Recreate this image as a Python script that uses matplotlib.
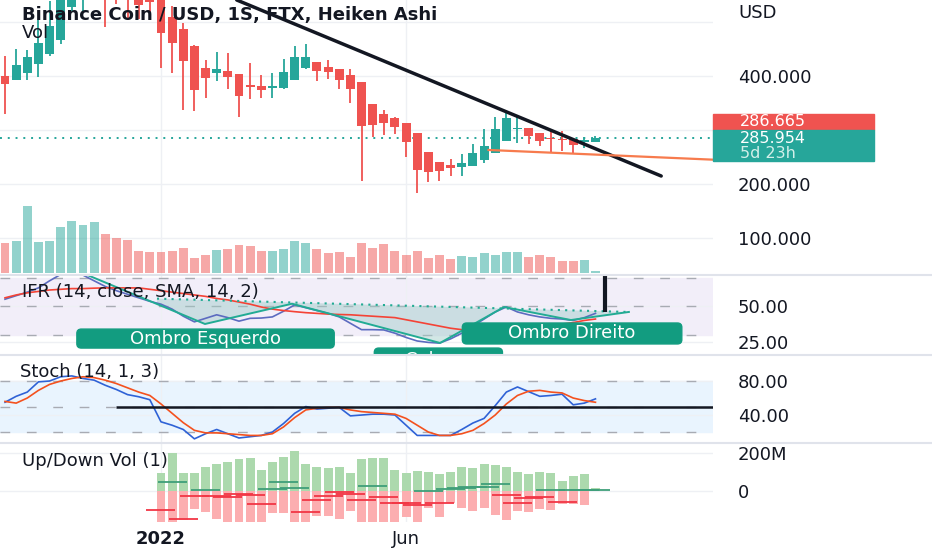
import numpy as np
import matplotlib
matplotlib.use("Agg")
import matplotlib.pyplot as plt
from matplotlib.patches import Rectangle, FancyBboxPatch

# weekly Heiken Ashi candles BNB/USD (FTX), first candle = late Sep 2021
opens = [400, 393, 406, 422, 441, 467, 528, 560, 620, 640,
         620, 600, 580, 560, 545, 510, 487, 456, 415, 406,
         409, 404, 383, 381, 378, 378, 393, 415, 426, 417,
         413, 402, 389, 348, 330, 322, 313, 294, 259, 241,
         235, 231, 233, 244, 257, 280, 302, 304, 294, 285,
         283, 283, 278, 278]
highs = [437, 450, 448, 504, 539, 600, 650, 660, 690, 660,
         640, 630, 600, 580, 570, 530, 498, 458, 430, 444,
         443, 404, 424, 402, 406, 431, 456, 459, 426, 430,
         413, 413, 389, 348, 337, 324, 313, 294, 259, 241,
         246, 256, 274, 302, 324, 335, 326, 304, 294, 298,
         298, 283, 287, 289]
lows = [330, 393, 393, 398, 437, 460, 520, 516, 580, 491,
        533, 504, 505, 504, 415, 406, 337, 335, 359, 391,
        376, 324, 357, 359, 359, 376, 393, 413, 391, 394,
        376, 350, 206, 287, 291, 293, 250, 183, 204, 206,
        215, 215, 233, 239, 257, 280, 276, 274, 270, 257,
        261, 257, 267, 278]
closes = [385, 420, 435, 461, 493, 560, 600, 620, 650, 590,
          580, 560, 531, 537, 480, 461, 428, 374, 396, 413,
          398, 363, 380, 374, 381, 407, 435, 435, 409, 407,
          393, 376, 307, 309, 313, 306, 278, 226, 222, 224,
          230, 239, 257, 270, 302, 322, 304, 289, 280, 283,
          281, 272, 281, 285.954]
volume = [606, 646, 1340, 626, 646, 926, 1046, 960, 1020, 780,
          694, 660, 440, 426, 426, 446, 506, 294, 360, 460,
          486, 560, 540, 440, 440, 480, 646, 606, 474, 406,
          426, 326, 606, 494, 580, 440, 370, 440, 304, 364,
          280, 340, 320, 400, 366, 412, 420, 320, 352, 312,
          246, 232, 252, 32]

# IFR (RSI 14) and its SMA 14
rsi = [55, 57.5, 60, 63, 68, 72.5, 75, 72, 68, 64,
       61, 58.5, 56, 53.5, 51.5, 48, 43, 39, 41.5, 44,
       42, 39.5, 41.5, 41.7, 42.5, 46.5, 51, 49, 47, 45,
       42.5, 38, 33.5, 33.5, 33.3, 31, 28, 25.5, 24.5, 24,
       27, 31, 36, 41, 46, 49.5, 46, 44, 42.5, 41.5,
       41, 40, 42, 45]
rsi_ma = [56, 58, 59.5, 60.5, 61.5, 62, 62.5, 62.5, 62.8, 63,
          63, 63, 63, 62, 61, 60, 59, 58, 57, 55.5,
          54.5, 53, 51.5, 49.5, 48, 47, 46.2, 45.5, 45, 44.5,
          44.2, 44, 43.5, 43, 42.5, 42, 40.5, 39, 37.5, 36,
          34.5, 33.5, 33.3, 33.5, 34, 34.5, 35, 35.5, 36, 37,
          37.5, 38.5, 40, 41]

# Stoch (14, 1, 3)
stoch_k = [55, 62, 67, 79, 80, 85, 86, 83, 81, 75,
           70, 64, 61.5, 58, 32, 28, 23, 12, 18, 23,
           18, 13, 14.5, 16, 20, 30, 42, 50, 47, 48,
           49, 39, 40, 41, 41, 40, 28, 16, 16, 16,
           16, 23, 30.6, 36, 51, 67, 73, 67.5, 62, 63,
           64.5, 52, 54, 59]
stoch_d = [56, 54, 60, 69, 76, 80, 83, 85, 84, 81,
           77, 72, 67, 63, 53, 42, 31, 22, 19, 19,
           18, 17, 16, 16, 18, 26, 37, 46, 48, 49,
           49, 46, 44, 43, 42, 41, 36, 28, 20, 16,
           16, 18, 22, 30, 40, 53, 63, 68, 69, 67,
           66, 60, 57, 55]

# Up/Down Vol (1), in millions, starts with the first 2022 week
ud_start = 14
up_vol = [91, 197, 91, 91, 123, 139, 153, 165, 170, 109,
          149, 179, 209, 140, 123, 118, 126, 95, 165, 174,
          170, 109, 91, 104, 100, 88, 98, 123, 118, 139,
          134, 123, 100, 86, 98, 95, 53, 77, 88, 13]
down_vol = [-175, -175, -154, -98, -110, -149, -175, -175, -175, -175,
            -116, -116, -175, -175, -133, -133, -149, -107, -175, -175,
            -175, -175, -140, -175, -89, -137, -66, -89, -107, -89,
            -128, -154, -107, -114, -96, -101, -72, -72, -75, 0]
delta = [-101, 47, -151, -28, 3, -30, -35, -20, -22, -70,
         9, 47, 12, -110, -49, -28, -5, -18, -49, 26,
         -35, -63, -63, -75, 0, -63, 7, 12, 21, 21,
         34, -23, -63, -40, -31, 2, -58, 2, 2, 2]

prev_price = 286.665
last_price = 285.954
countdown = "5d 23h"
date_ticks = [14, 36]
date_labels = ["2022", "Jun"]

# hand drawn lines (candle index, value)
trend_x, trend_y = [20.8, 58.9], [540.7, 214.8]
support_x, support_y = [43.4, 63.6], [263, 245]
hs_x = [7.45, 17.95, 25.76, 39.05, 44.8, 50.8, 56.0]
hs_y = [71.9, 37.5, 51.8, 24.1, 49.5, 40.3, 46.0]
neck_x, neck_y = [13.64, 55.9], [55.4, 46.0]

UP, DN = "#26a69a", "#ef5350"
TXT = "#131722"
GRID = "#eef0f4"
TEAL = "#129c80"
W, H = 932, 550
FS = 13


def right_ticks(a):
    a.yaxis.tick_right()
    a.tick_params(axis="y", length=0, pad=18, labelsize=FS, colors=TXT)


def pane(top, bottom):
    a = fig.add_axes([0, 1 - bottom / H, 713 / W, (bottom - top) / H])
    a.set_xlim(-0.45, 63.55)
    for s in a.spines.values():
        s.set_visible(False)
    right_ticks(a)
    a.tick_params(axis="x", length=0, labelbottom=False)
    a.set_xticks(date_ticks)
    a.grid(True, color=GRID, lw=1)
    a.set_axisbelow(True)
    return a


fig = plt.figure(figsize=(W / 100, H / 100), dpi=100)

x = np.arange(len(opens))
o, hi, lo, c = map(np.array, (opens, highs, lows, closes))
col = np.where(c >= o, UP, DN)

# main price pane (+ volume on a twin axis)
ax = pane(0, 275)
vax = ax.twinx()
vax.set_ylim(-40, 5460)
vax.bar(x, volume, width=0.8, color=col, alpha=0.5)
vax.axis("off")
right_ticks(ax)  # twinx moves the ticks back to the left

ax.set_ylim(31.5, 540.7)
ax.set_yticks([100, 200, 300, 400, 500], ["100.000", "200.000", "", "400.000", ""])
ax.vlines(x, lo, hi, color=col, lw=1.3, zorder=2)
ax.bar(x, np.maximum(np.abs(c - o), 2.5), bottom=np.minimum(o, c), width=0.8,
       color=col, zorder=3)
ax.axhline(last_price, color=UP, ls=(0, (1, 3)), lw=1.4, zorder=1)
ax.plot(trend_x, trend_y, color=TXT, lw=2.5, solid_capstyle="round", zorder=4)
ax.plot(support_x, support_y, color="#f77b4d", lw=1.6, zorder=4)

# IFR pane
rax = pane(275, 355)
rax.set_ylim(15.6, 72.1)
rax.set_yticks([25, 50], ["25.00", "50.00"])
rax.axhspan(30, 70, color="#f2eef9", zorder=0)
for lvl in (70, 50, 30):
    rax.axhline(lvl, color="#a8abb3", ls=(0, (7, 12)), lw=1, zorder=1)
xs = np.linspace(neck_x[0], neck_x[1], 500)
zig = np.interp(xs, hs_x, hs_y)
neck = np.interp(xs, neck_x, neck_y)
rax.fill_between(xs, zig, neck, where=zig < neck, color="#9ccac6", alpha=0.45, lw=0)
rax.plot(x, rsi, color="#5c6bc0", lw=1.2)
rax.plot(x, rsi_ma, color="#f44336", lw=1.2)
rax.plot(hs_x, hs_y, color="#22ab94", lw=1.4)
rax.plot(neck_x, neck_y, color="#22ab94", ls=(0, (1, 2.5)), lw=1.5)
rax.vlines(53.9, 46.2, 80, color=TXT, lw=3)

for label, cx, cy, bw, bh in [("Ombro Esquerdo", 18.0, 27.2, 23.1, 13.4),
                               ("Cabeça", 38.9, 10.0, 11.5, 21.0),
                               ("Ombro Direito", 50.9, 30.8, 19.7, 14.8)]:
    rax.add_patch(FancyBboxPatch((cx - bw / 2, cy - bh / 2), bw, bh,
                                 boxstyle="round,pad=0,rounding_size=0.4",
                                 mutation_aspect=7.5, color=TEAL, zorder=5))
    ty = cy + 2.2 if label == "Cabeça" else cy
    rax.text(cx, ty, label, color="white", fontsize=FS, ha="center", va="center",
             zorder=6, clip_on=True)

# Stoch pane
sax = pane(355, 443)
sax.set_ylim(7.1, 110.6)
sax.set_yticks([40, 80], ["40.00", "80.00"])
sax.axhspan(20, 80, color="#e9f4fe", zorder=0)
for lvl in (80, 50, 20):
    sax.axhline(lvl, color="#a8abb3", ls=(0, (7, 12)), lw=1, zorder=1)
sax.plot(x, stoch_k, color="#2f62d6", lw=1.2)
sax.plot(x, stoch_d, color="#f4511e", lw=1.2)
sax.hlines(50, 10, 63.55, color=TXT, lw=1.8)

# Up/Down volume pane
uax = pane(444, 522)
uax.set_ylim(-165, 246)
uax.set_yticks([0, 200], ["0", "200M"])
ux = x[ud_start:]
uax.bar(ux, up_vol, width=0.8, color="#acd9ad")
uax.bar(ux, down_vol, width=0.8, color="#fcaeb0")
d = np.array(delta)
uax.hlines(d, ux - 1.3, ux + 1.3, colors=np.where(d >= 0, "#3f9f7a", "#f23645"), lw=1.3)
uax.tick_params(axis="x", labelbottom=True, labelsize=FS, labelcolor=TXT, pad=6)
uax.set_xticklabels(date_labels)
uax.get_xticklabels()[0].set_fontweight("bold")

# pane separators
for py in (275, 355, 443):
    fig.add_artist(plt.Line2D([0, 1], [1 - py / H] * 2, transform=fig.transFigure,
                              color="#e0e3eb", lw=1.5))

# last price labels
fig.add_artist(Rectangle((713 / W, 1 - 130 / H), 161 / W, 16.3 / H,
                         transform=fig.transFigure, color=DN))
fig.add_artist(Rectangle((713 / W, 1 - 161 / H), 161 / W, 31 / H,
                         transform=fig.transFigure, color=UP))
fig.text(740 / W, 1 - 122 / H, f"{prev_price:.3f}", color="white", fontsize=11.5, va="center")
fig.text(740 / W, 1 - 138.5 / H, f"{last_price:.3f}", color="white", fontsize=11.5, va="center")
fig.text(740 / W, 1 - 153 / H, countdown, color="#d2efe9", fontsize=11.5, va="center")

# legends
fig.text(738 / W, 1 - 13 / H, "USD", color=TXT, fontsize=FS, va="center")
fig.text(22 / W, 1 - 15 / H, "Binance Coin / USD, 1S, FTX, Heiken Ashi", color=TXT,
         fontsize=FS, fontweight="bold", va="center")
fig.text(22 / W, 1 - 33 / H, "Vol", color=TXT, fontsize=FS, va="center")
fig.text(22 / W, 1 - 292 / H, "IFR (14, close, SMA, 14, 2)", color=TXT, fontsize=FS, va="center")
fig.text(20 / W, 1 - 372 / H, "Stoch (14, 1, 3)", color=TXT, fontsize=FS, va="center")
fig.text(22 / W, 1 - 461 / H, "Up/Down Vol (1)", color=TXT, fontsize=FS, va="center")

fig.savefig("out.png", dpi=100)
